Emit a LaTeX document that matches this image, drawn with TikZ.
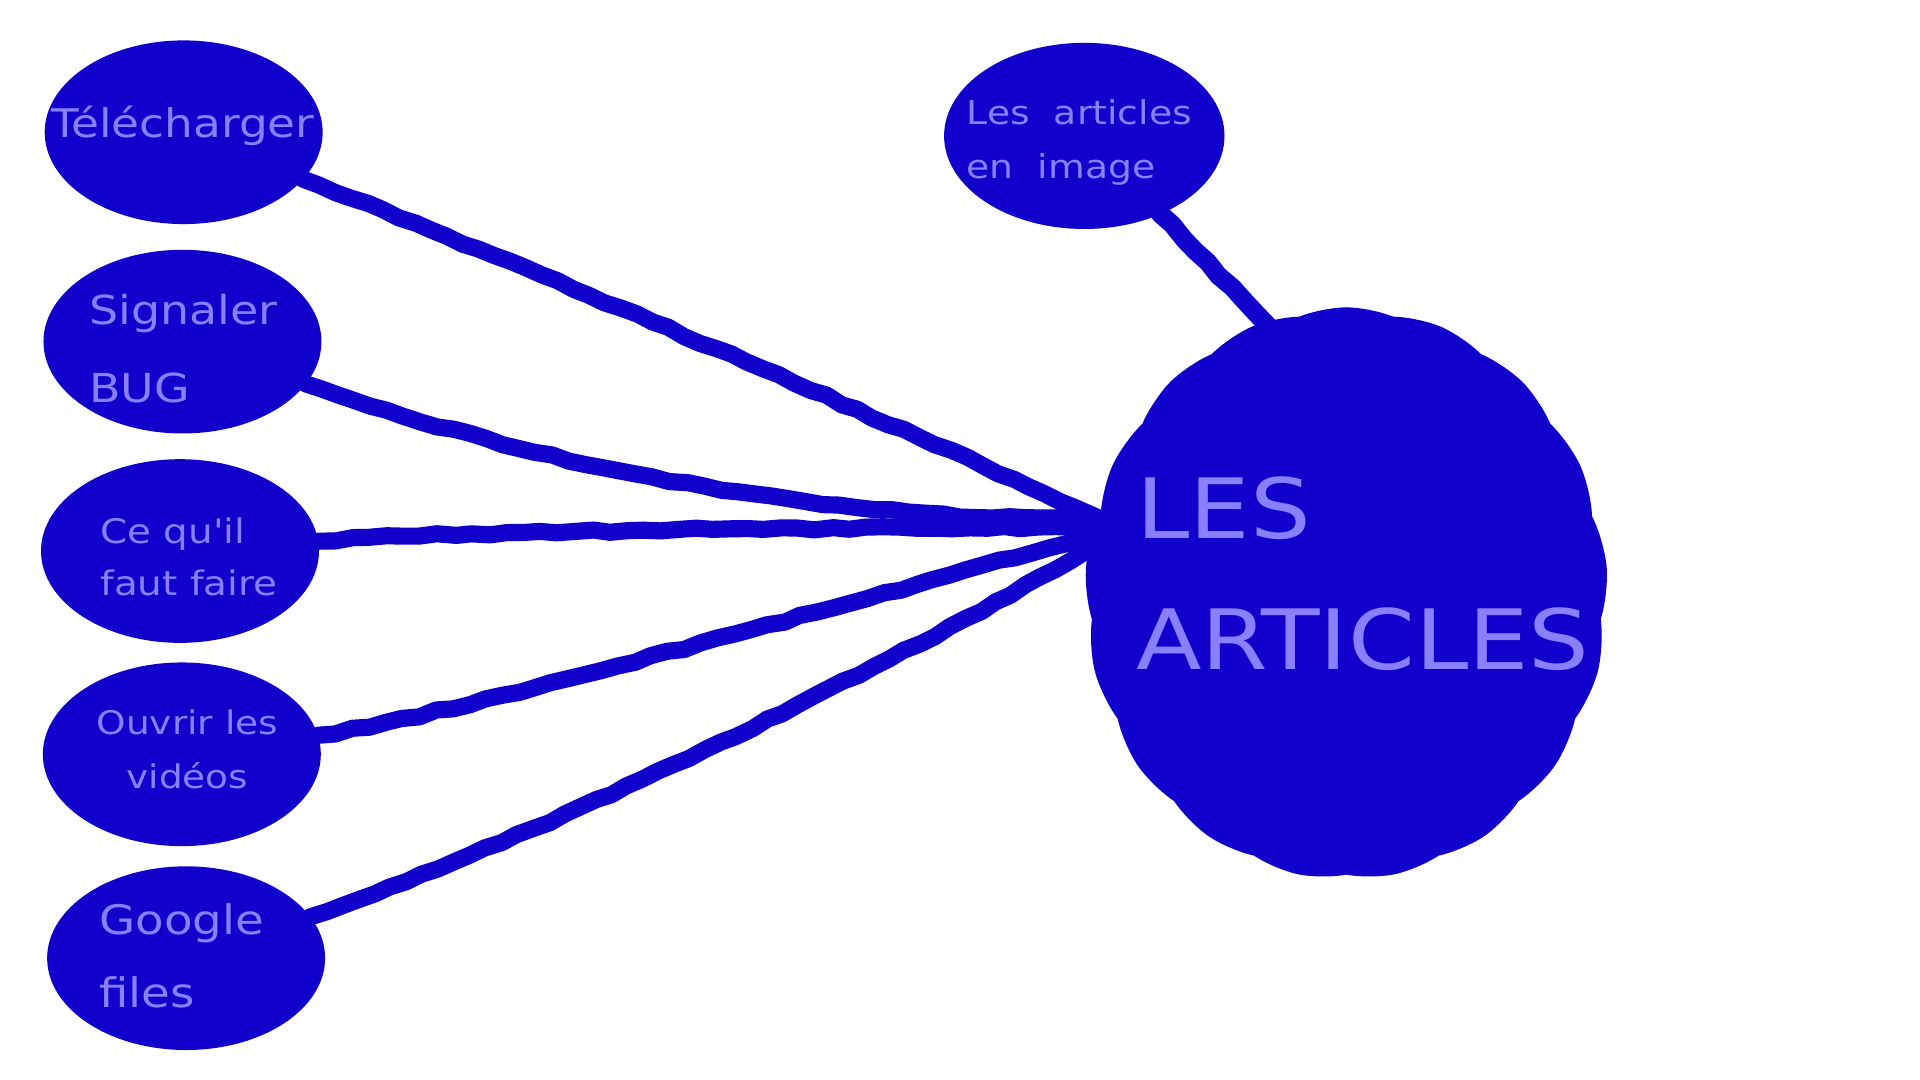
\documentclass[tikz,border=0pt]{standalone}
\usepackage{fontspec}
\newfontfamily\hand[FakeStretch=1.15]{DejaVu Sans}
\usetikzlibrary{shapes.geometric,shapes.symbols,decorations.pathmorphing,backgrounds}
\definecolor{fillb}{RGB}{17,0,204}
\definecolor{txtb}{RGB}{136,128,255}
\begin{document}
\begin{tikzpicture}[x=0.5pt,y=-0.5pt,
  bubble/.style={ellipse, fill=fillb, draw=none, inner sep=0pt, outer sep=0pt,
    minimum width=113.5pt, minimum height=75pt},
  lbl/.style={text=txtb, inner sep=0pt, outer sep=0pt, align=left, anchor=base west},
  link/.style={draw=fillb, line width=7pt, line cap=round, line join=round,
    decorate, decoration={random steps, segment length=7pt, amplitude=0.6pt}},
  bigcloud/.style={cloud, cloud puffs=17, cloud puff arc=45, cloud ignores aspect,
    fill=fillb, draw=none, inner sep=0pt, outer sep=0pt,
    minimum width=213.5pt, minimum height=233.5pt}
]
\pgfmathsetseed{7}
\useasboundingbox (0,0) rectangle (1568,882);

% bubbles
\node[bubble] (tel) at (150,108) {};
\node[bubble] (sig) at (149,279) {};
\node[bubble] (ce)  at (147,450) {};
\node[bubble] (ouv) at (148.5,616) {};
\node[bubble] (goo) at (152,782.5) {};
\node[bubble, minimum width=114.5pt, minimum height=76pt] (ai) at (885.5,111) {};
\node[bigcloud] (art) at (1099.5,484.5) {};

% labels (anchor = baseline of the last line)
\node[lbl, font=\hand\fontsize{16.1}{18}\selectfont] (ttel) at (42,112) {Télécharger};
\node[lbl, font=\hand\fontsize{16.3}{32}\selectfont] (tsig) at (73,329) {Signaler\\BUG};
\node[lbl, font=\hand\fontsize{13.8}{21}\selectfont] (tce) at (82,486) {Ce qu'il\\faut faire};
\node[lbl, align=center, anchor=base, font=\hand\fontsize{13.3}{22}\selectfont] (touv) at (153,644) {Ouvrir les\\vidéos};
\node[lbl, font=\hand\fontsize{16.6}{30}\selectfont] (tgoo) at (81,823) {Google\\files};
\node[lbl, font=\hand\fontsize{13.4}{22}\selectfont] (tai) at (789.5,146) {Les\ \ articles\\en\ \ image};
\node[lbl, font=\hand\fontsize{34}{53.5}\selectfont] (tart) at (928,547) {LES\\ARTICLES};

% connector ends inside the cloud
\coordinate (etel) at (895,422);
\coordinate (esig) at (895,424);
\coordinate (ece)  at (895,431);
\coordinate (eouv) at (895,437);
\coordinate (egoo) at (895,446);
\coordinate (eai)  at (1045,275);

\begin{scope}[on background layer]
  \fill[white] (0,0) rectangle (1568,882);
  \draw[link] (tel) .. controls (440,222) and (660,315) .. (etel);
  \draw[link] (sig) .. controls (400,365) and (620,425) .. (esig);
  \draw[link] (ce)  .. controls (330,437) and (460,431) .. (ece);
  \draw[link] (ouv) .. controls (370,585) and (700,490) .. (eouv);
  \draw[link] (goo) .. controls (400,700) and (700,560) .. (egoo);
  \draw[link, line width=7.6pt] (ai) -- (eai);
\end{scope}
\end{tikzpicture}
\end{document}
